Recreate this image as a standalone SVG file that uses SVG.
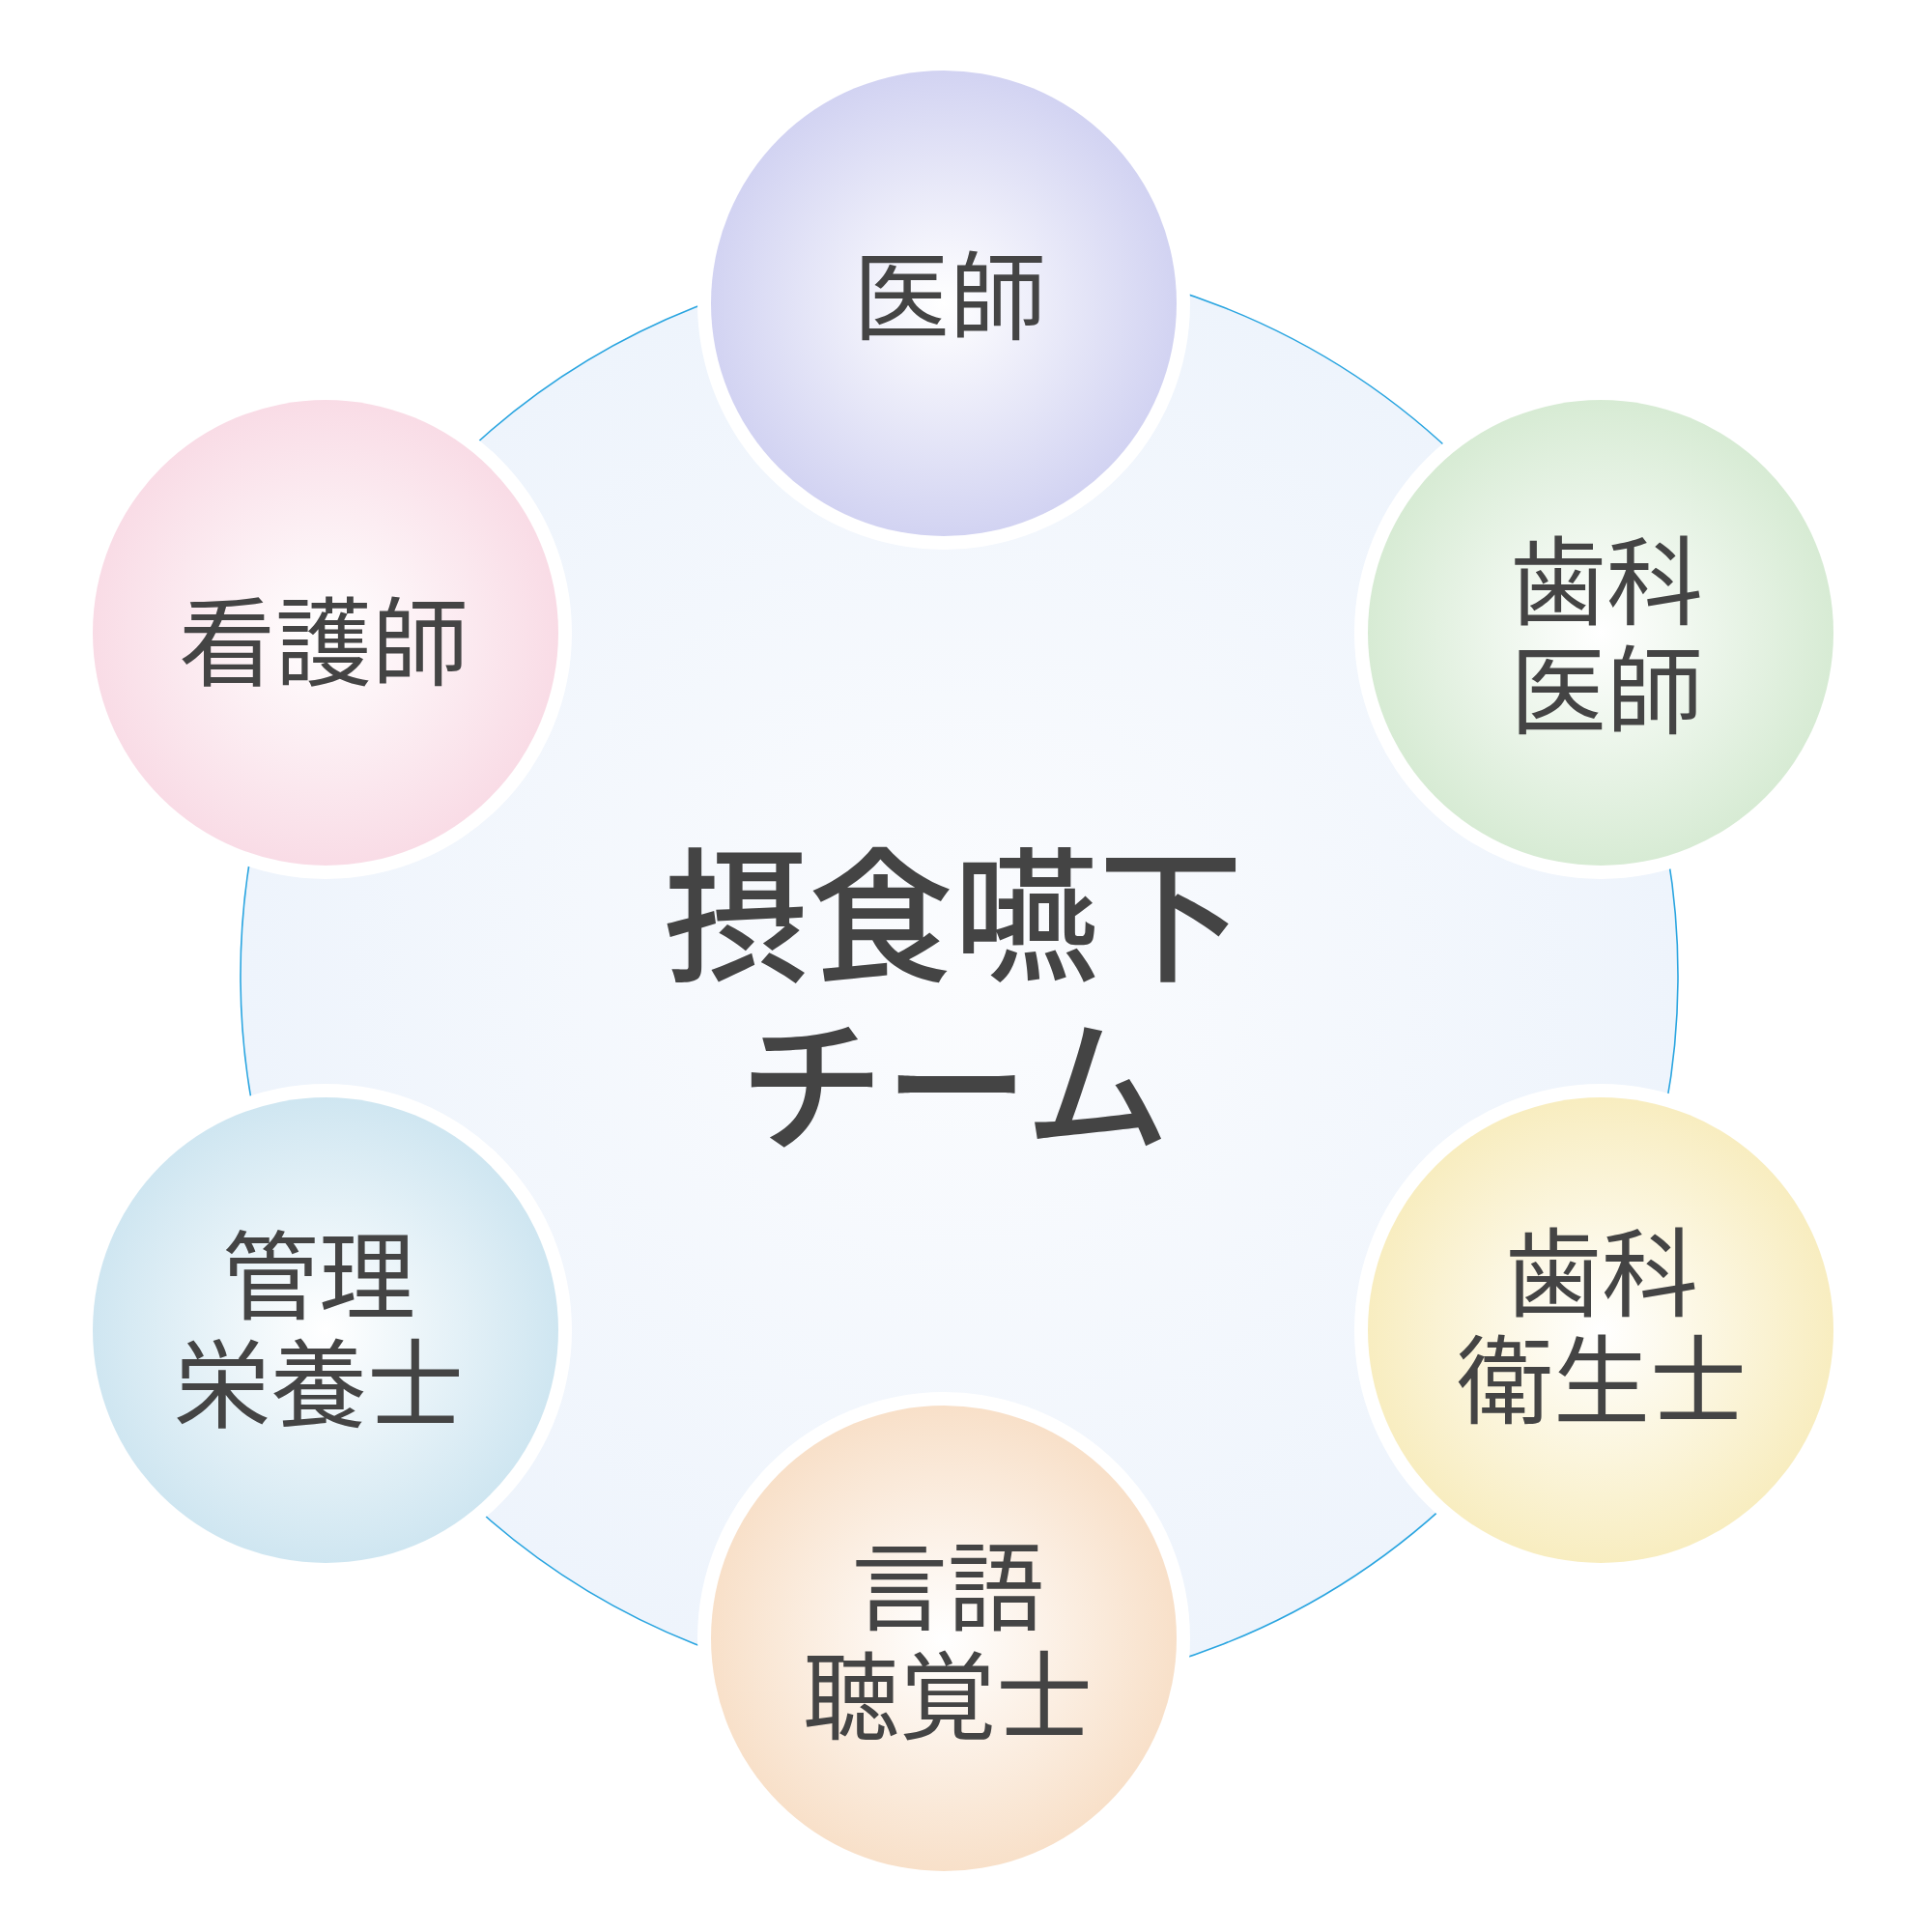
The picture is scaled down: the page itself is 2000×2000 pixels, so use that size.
<svg xmlns="http://www.w3.org/2000/svg" width="2000" height="2000" viewBox="0 0 2000 2000">
<style>
.lbl{font-family:"Noto Sans CJK JP","Noto Sans CJK SC",sans-serif;font-size:100px;font-weight:400;fill:#444444;text-anchor:middle}
.ttl{font-family:"Noto Sans CJK JP","Noto Sans CJK SC",sans-serif;font-size:150px;font-weight:500;fill:#444444;text-anchor:middle}
.ring{fill:#ffffff}
</style>
<defs>
<radialGradient id="gBig" cx="0.5" cy="0.5" r="0.5"><stop offset="0" stop-color="#fbfcfe"/><stop offset="1" stop-color="#eef4fc"/></radialGradient>
<radialGradient id="gLav" cx="0.5" cy="0.5" r="0.5"><stop offset="0" stop-color="#ffffff"/><stop offset="1" stop-color="#d2d3f2"/></radialGradient>
<radialGradient id="gGrn" cx="0.5" cy="0.5" r="0.5"><stop offset="0" stop-color="#ffffff"/><stop offset="1" stop-color="#d7ebd4"/></radialGradient>
<radialGradient id="gYel" cx="0.5" cy="0.5" r="0.5"><stop offset="0" stop-color="#ffffff"/><stop offset="1" stop-color="#f8edc0"/></radialGradient>
<radialGradient id="gPch" cx="0.5" cy="0.5" r="0.5"><stop offset="0" stop-color="#ffffff"/><stop offset="1" stop-color="#f8e0c9"/></radialGradient>
<radialGradient id="gBlu" cx="0.5" cy="0.5" r="0.5"><stop offset="0" stop-color="#ffffff"/><stop offset="1" stop-color="#cfe6f1"/></radialGradient>
<radialGradient id="gPnk" cx="0.5" cy="0.5" r="0.5"><stop offset="0" stop-color="#ffffff"/><stop offset="1" stop-color="#f9dce6"/></radialGradient>
</defs>
<rect width="2000" height="2000" fill="#ffffff"/>
<g id="connectors">
<circle cx="993" cy="1010" r="744" fill="url(#gBig)" stroke="#2aa5e0" stroke-width="1.6"/>
</g>
<g id="center">
<text class="ttl" x="987" y="1004">摂食嚥下</text>
<text class="ttl" x="988" y="1180">チーム</text>
</g>
<g id="node-doctor">
<circle class="ring" cx="977" cy="314" r="255"/>
<circle cx="977" cy="314" r="241" fill="url(#gLav)"/>
<text class="lbl" x="983" y="344">医師</text>
</g>
<g id="node-dentist">
<circle class="ring" cx="1657" cy="655" r="255"/>
<circle cx="1657" cy="655" r="241" fill="url(#gGrn)"/>
<text class="lbl" x="1663" y="639">歯科</text>
<text class="lbl" x="1663" y="752">医師</text>
</g>
<g id="node-hygienist">
<circle class="ring" cx="1657" cy="1377" r="255"/>
<circle cx="1657" cy="1377" r="241" fill="url(#gYel)"/>
<text class="lbl" x="1658" y="1355">歯科</text>
<text class="lbl" x="1658" y="1466">衛生士</text>
</g>
<g id="node-st">
<circle class="ring" cx="977" cy="1696" r="255"/>
<circle cx="977" cy="1696" r="241" fill="url(#gPch)"/>
<text class="lbl" x="981" y="1680">言語</text>
<text class="lbl" x="981" y="1793">聴覚士</text>
</g>
<g id="node-dietitian">
<circle class="ring" cx="337" cy="1377" r="255"/>
<circle cx="337" cy="1377" r="241" fill="url(#gBlu)"/>
<text class="lbl" x="330" y="1358">管理</text>
<text class="lbl" x="330" y="1470">栄養士</text>
</g>
<g id="node-nurse">
<circle class="ring" cx="337" cy="655" r="255"/>
<circle cx="337" cy="655" r="241" fill="url(#gPnk)"/>
<text class="lbl" x="335" y="702">看護師</text>
</g>
</svg>
